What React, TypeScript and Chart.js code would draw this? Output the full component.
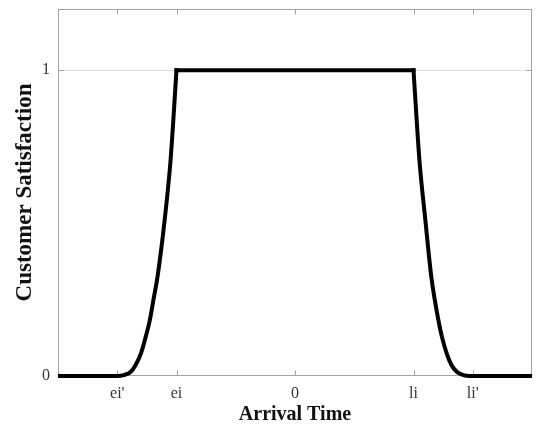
import React, { useEffect, useRef } from "react";
import { Chart, registerables } from "chart.js";

Chart.register(...registerables);

// Data
const leftX = [-4, -3.0, -2.89, -2.77, -2.69, -2.6, -2.52, -2.45, -2.39, -2.32, -2.2, -2.1, -2.0];
const leftY = [0, 0, 0.003, 0.014, 0.036, 0.074, 0.128, 0.183, 0.248, 0.325, 0.51, 0.706, 1];
const topX = [-2, 2];
const topY = [1, 1];
const rightX = [2.0, 2.1, 2.2, 2.3, 2.36, 2.42, 2.48, 2.56, 2.64, 2.73, 2.84, 2.95, 4];
const rightY = [1, 0.706, 0.51, 0.325, 0.248, 0.183, 0.128, 0.074, 0.036, 0.014, 0.003, 0, 0];

const xTickValues = [-3, -2, 0, 2, 3];
const xTickLabels = ["ei'", "ei", "0", "li", "li'"];
const yTickValues = [0, 1];
const yTickLabels = ["0", "1"];

const xTitle = "Arrival Time";
const yTitle = "Customer Satisfaction";

const FONT = "'Liberation Serif', 'Times New Roman', serif";

const toPoints = (xs: number[], ys: number[]) => xs.map((x, i) => ({ x, y: ys[i] }));

const framePlugin = {
  id: "frame",
  beforeDatasetsDraw(chart: any) {
    const { ctx, chartArea, scales } = chart;
    const { left, right, top, bottom } = chartArea;
    const x = scales.x;
    const y = scales.y;
    ctx.save();
    ctx.strokeStyle = "#a3a3a3";
    ctx.lineWidth = 1;
    const l = Math.round(left) + 0.5;
    const r = Math.round(right) - 0.5;
    const t = Math.round(top) + 0.5;
    const b = Math.round(bottom) - 0.5;
    ctx.strokeRect(l, t, r - l, b - t);
    ctx.beginPath();
    xTickValues.forEach((v) => {
      const px = Math.round(x.getPixelForValue(v)) + 0.5;
      ctx.moveTo(px, b);
      ctx.lineTo(px, b - 5);
      ctx.moveTo(px, t);
      ctx.lineTo(px, t + 5);
    });
    yTickValues.forEach((v) => {
      const py = Math.round(y.getPixelForValue(v)) + 0.5;
      ctx.moveTo(l, py);
      ctx.lineTo(l + 5, py);
      ctx.moveTo(r, py);
      ctx.lineTo(r - 5, py);
    });
    ctx.stroke();
    ctx.restore();
  },
};

export default function App() {
  const ref = useRef<HTMLCanvasElement | null>(null);

  useEffect(() => {
    if (!ref.current) return;
    const lineStyle = {
      borderColor: "#000",
      backgroundColor: "#000",
      borderWidth: 4,
      pointRadius: 0,
      fill: false,
      cubicInterpolationMode: "monotone" as const,
      borderCapStyle: "square" as const,
      borderJoinStyle: "miter" as const,
      clip: { left: 0, right: 0, top: 5, bottom: 5 },
    };
    const chart = new Chart(ref.current, {
      type: "line",
      data: {
        datasets: [
          { ...lineStyle, data: toPoints(leftX, leftY) },
          { ...lineStyle, data: toPoints(topX, topY) },
          { ...lineStyle, data: toPoints(rightX, rightY) },
        ],
      },
      options: {
        responsive: false,
        animation: false,
        layout: { padding: { top: 9, right: 18, bottom: 8, left: 0 } },
        plugins: { legend: { display: false }, tooltip: { enabled: false } },
        scales: {
          x: {
            type: "linear",
            min: -4,
            max: 4,
            afterBuildTicks: (s: any) => {
              s.ticks = xTickValues.map((v) => ({ value: v }));
            },
            afterFit: (s: any) => {
              s.height = 51;
              s.paddingLeft = 0;
              s.paddingRight = 0;
            },
            ticks: {
              autoSkip: false,
              maxRotation: 0,
              padding: 8,
              color: "#333",
              font: { family: FONT, size: 16 },
              callback: (_v: any, i: number) => xTickLabels[i],
            },
            grid: { display: false, drawTicks: false },
            border: { display: false },
            title: {
              display: true,
              text: xTitle,
              color: "#111",
              font: { family: FONT, size: 20, weight: "bold" },
              padding: { top: 0, bottom: 0 },
            },
          },
          y: {
            type: "linear",
            min: 0,
            max: 1.2,
            afterBuildTicks: (s: any) => {
              s.ticks = yTickValues.map((v) => ({ value: v }));
            },
            afterFit: (s: any) => {
              s.width = 58;
              s.paddingTop = 0;
              s.paddingBottom = 0;
            },
            ticks: {
              padding: 8,
              color: "#333",
              font: { family: FONT, size: 16 },
              callback: (_v: any, i: number) => yTickLabels[i],
            },
            grid: {
              drawTicks: false,
              lineWidth: 1,
              color: (c: any) => (c.tick && c.tick.value === 1 ? "#dedede" : "rgba(0,0,0,0)"),
            },
            border: { display: false },
            title: {
              display: true,
              text: yTitle,
              color: "#111",
              font: { family: FONT, size: 23, weight: "bold" },
              padding: { top: 11, bottom: 4 },
            },
          },
        },
      },
      plugins: [framePlugin],
    });
    return () => chart.destroy();
  }, []);

  return (
    <div style={{ position: "absolute", left: 0, top: 0, width: 550, height: 435, background: "#fff" }}>
      <canvas ref={ref} width={550} height={435} />
    </div>
  );
}
